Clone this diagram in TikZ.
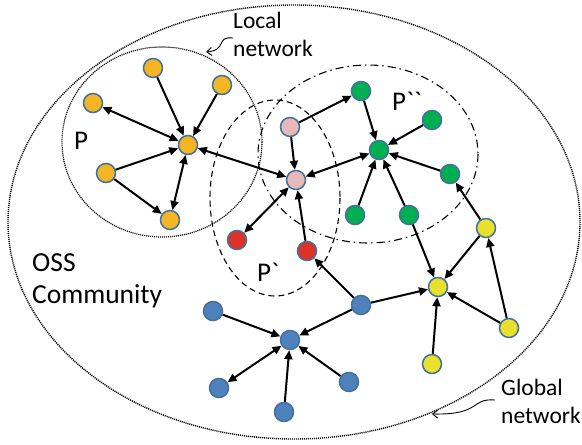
\documentclass[tikz,border=0pt]{standalone}
\usepackage{fontspec}
\setmainfont{Carlito}[Ligatures=TeXOff]
\usetikzlibrary{arrows.meta}
\definecolor{cOr}{HTML}{F4B524}
\definecolor{cPk}{HTML}{E6B9B8}
\definecolor{cRd}{HTML}{DE3226}
\definecolor{cGn}{HTML}{00B050}
\definecolor{cYl}{HTML}{E8E02C}
\definecolor{cBl}{HTML}{4F81BD}
\definecolor{cBd}{HTML}{41719C}
\begin{document}
\begin{tikzpicture}[x=1pt,y=-1pt,
  nd/.style={circle,draw=cBd,line width=1.5pt,minimum size=19pt,inner sep=0pt},
  ed/.style={line width=2pt,-{Triangle[length=9pt,width=8pt]}},
  bi/.style={line width=2pt,{Triangle[length=9pt,width=8pt]}-{Triangle[length=9pt,width=8pt]}},
  lbl/.style={font=\fontsize{23.5}{28}\selectfont,align=left,inner sep=0pt},
  big/.style={font=\fontsize{27}{31}\selectfont,inner sep=0pt},
  callout/.style={line width=0.9pt,-{Straight Barb[length=5pt,width=8pt]}}]
\useasboundingbox (0,0) rectangle (582,445);
% regions
\draw[line width=1.4pt,dash pattern=on 1.1pt off 0.9pt] (294,222) ellipse [x radius=286,y radius=217];
\draw[line width=1.2pt,dash pattern=on 1.1pt off 0.9pt] (162,142) ellipse [x radius=100,y radius=95];
\draw[line width=1.1pt,dash pattern=on 6pt off 4pt] (275,198) ellipse [x radius=65,y radius=98];
\draw[line width=1.1pt,dash pattern=on 8pt off 4pt on 1.5pt off 4pt] (368,154) ellipse [x radius=110,y radius=89];
% labels
\node[big] (lP) at (81,141) {P};
\node[big] (lP1) at (268,272) {P`};
\node[big] (lP2) at (407,101) {P``};
\node[lbl,anchor=north west] (tLocal) at (233,12) {Local\\network};
\node[lbl,anchor=north west,font=\fontsize{27.5}{32}\selectfont] (tOSS) at (32,253) {OSS\\Community};
\node[lbl,anchor=north west] (tGlobal) at (501,379) {Global\\network};
\coordinate (cl1) at (233,38);
\coordinate (cl2) at (206,52);
\draw[callout] (cl1) .. controls (215,36) and (228,50) .. (cl2);
\coordinate (cg1) at (495,400);
\coordinate (cg2) at (432,414);
\draw[callout] (cg1) .. controls (470,398) and (482,415) .. (cg2);
% nodes
\node[nd,fill=cOr] (oh) at (188,145) {};
\node[nd,fill=cOr] (o1) at (153,68) {};
\node[nd,fill=cOr] (o2) at (222,85) {};
\node[nd,fill=cOr] (o3) at (93,103) {};
\node[nd,fill=cOr] (o4) at (106,173) {};
\node[nd,fill=cOr] (o5) at (170,220) {};
\node[nd,fill=cPk] (p1) at (290,127) {};
\node[nd,fill=cPk] (p2) at (296,180) {};
\node[nd,fill=cRd] (r1) at (237,240) {};
\node[nd,fill=cRd] (r2) at (307,251) {};
\node[nd,fill=cGn] (g1) at (361,91) {};
\node[nd,fill=cGn] (gh) at (379,150) {};
\node[nd,fill=cGn] (g2) at (432,120) {};
\node[nd,fill=cGn] (g3) at (450,174) {};
\node[nd,fill=cGn] (g4) at (355,215) {};
\node[nd,fill=cGn] (g5) at (409,215) {};
\node[nd,fill=cYl] (y1) at (486,228) {};
\node[nd,fill=cYl] (yh) at (438,287) {};
\node[nd,fill=cYl] (y2) at (509,328) {};
\node[nd,fill=cYl] (y3) at (432,364) {};
\node[nd,fill=cBl] (b1) at (361,305) {};
\node[nd,fill=cBl] (bh) at (290,340) {};
\node[nd,fill=cBl] (b2) at (213,311) {};
\node[nd,fill=cBl] (b3) at (219,388) {};
\node[nd,fill=cBl] (b4) at (349,382) {};
\node[nd,fill=cBl] (b5) at (284,412) {};
% edges
\draw[ed] (o1) -- (oh);
\draw[ed] (o2) -- (oh);
\draw[bi] (oh) -- (o3);
\draw[ed] (o4) -- (oh);
\draw[bi] (oh) -- (o5);
\draw[ed] (o4) -- (o5);
\draw[bi] (oh) -- (p2);
\draw[ed] (p1) -- (g1);
\draw[ed] (p1) -- (p2);
\draw[bi] (p2) -- (r1);
\draw[ed] (r2) -- (p2);
\draw[bi] (gh) -- (p2);
\draw[ed] (g1) -- (gh);
\draw[ed] (g2) -- (gh);
\draw[ed] (g3) -- (gh);
\draw[ed] (g4) -- (gh);
\draw[ed] (g5) -- (gh);
\draw[ed] (g5) -- (yh);
\draw[ed] (y1) -- (g3);
\draw[ed] (y1) -- (yh);
\draw[ed] (y2) -- (yh);
\draw[ed] (y2) -- (y1);
\draw[ed] (y3) -- (yh);
\draw[ed] (b1) -- (r2);
\draw[ed] (b1) -- (yh);
\draw[ed] (b1) -- (bh);
\draw[ed] (b2) -- (bh);
\draw[bi] (bh) -- (b3);
\draw[ed] (b5) -- (bh);
\draw[ed] (b4) -- (bh);
\end{tikzpicture}
\end{document}
